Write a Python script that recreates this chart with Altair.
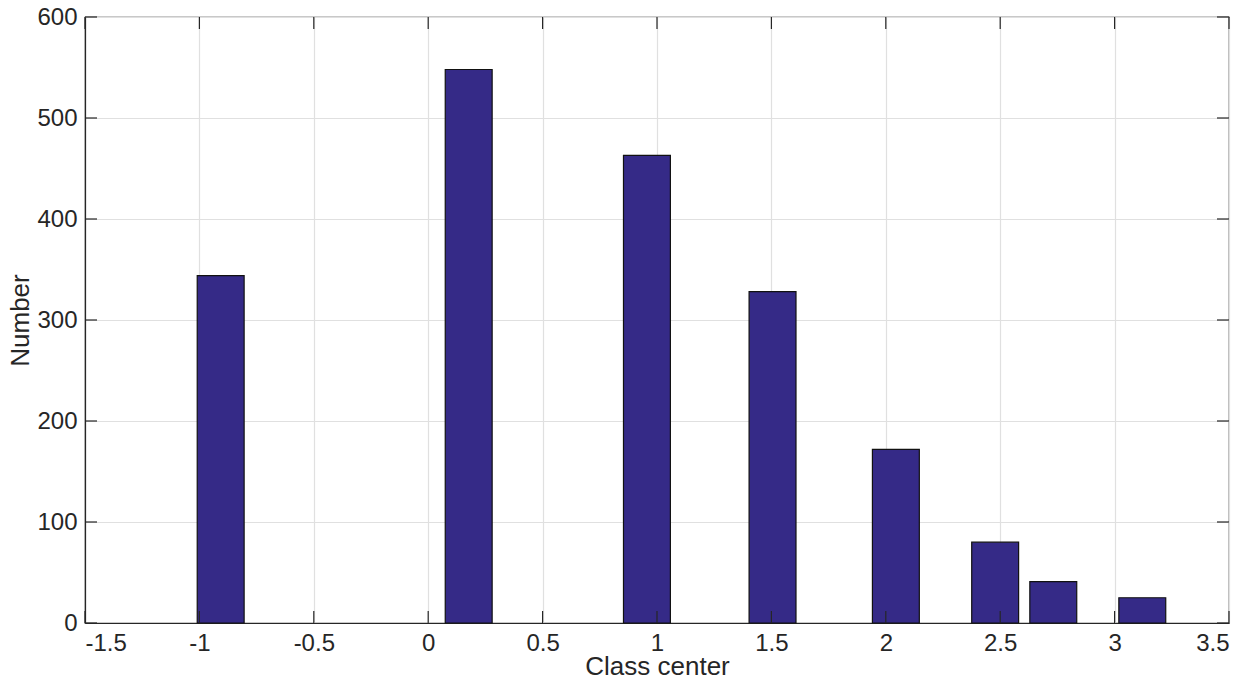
import altair as alt
import pandas as pd

# Data
class_center = [-0.907, 0.177, 0.956, 1.505, 2.044, 2.478, 2.732, 3.121]
number = [344, 548, 463, 328, 172, 80, 41, 25]
bar_width = 0.205

x_ticks = [-1.5, -1, -0.5, 0, 0.5, 1, 1.5, 2, 2.5, 3, 3.5]
y_ticks = [0, 100, 200, 300, 400, 500, 600]

FONT = "Liberation Sans"
W, H = 1144, 606
TICK = 12
AX = "#262626"

df = pd.DataFrame({"center": class_center, "number": number})
xt = pd.DataFrame({"v": x_ticks})
yt = pd.DataFrame({"v": y_ticks})

xscale = alt.Scale(domain=[-1.5, 3.5], nice=False, zero=False)
yscale = alt.Scale(domain=[0, 600], nice=False)

xaxis = alt.Axis(
    values=x_ticks,
    title="Class center",
    labelExpr="replace(format(datum.value, ''), '\u2212', '-')",
    labelPadding=8,
    titleBaseline="alphabetic",
    titleY=51,
)
yaxis = alt.Axis(
    values=y_ticks,
    title="Number",
    labelPadding=8,
    titleBaseline="alphabetic",
    titleX=-57,
)

bars = alt.Chart(df).transform_calculate(
    x0="datum.center - %f" % (bar_width / 2),
    x1="datum.center + %f" % (bar_width / 2),
).mark_bar(
    color="#352a87", stroke="#111111", strokeWidth=1.2
).encode(
    x=alt.X("x0:Q", scale=xscale, axis=xaxis),
    x2="x1:Q",
    y=alt.Y("number:Q", scale=yscale, axis=yaxis),
    y2=alt.datum(0),
)

tick_style = dict(color=AX, strokeWidth=1.2)

x_bottom = alt.Chart(xt).mark_rule(**tick_style).encode(
    x=alt.X("v:Q", scale=xscale, axis=xaxis),
    y=alt.value(H), y2=alt.value(H - TICK),
)
x_top = alt.Chart(xt).mark_rule(**tick_style).encode(
    x=alt.X("v:Q", scale=xscale, axis=xaxis),
    y=alt.value(0), y2=alt.value(TICK),
)
y_left = alt.Chart(yt).mark_rule(**tick_style).encode(
    y=alt.Y("v:Q", scale=yscale, axis=yaxis),
    x=alt.value(0), x2=alt.value(TICK),
)
y_right = alt.Chart(yt).mark_rule(**tick_style).encode(
    y=alt.Y("v:Q", scale=yscale, axis=yaxis),
    x=alt.value(W), x2=alt.value(W - TICK),
)

chart = alt.layer(bars, x_bottom, x_top, y_left, y_right).properties(
    width=W,
    height=H,
    autosize=alt.AutoSizeParams(type="none"),
    padding={"left": 77, "top": 9, "right": 10, "bottom": 52},
).configure_axis(
    labelFont=FONT,
    titleFont=FONT,
    labelFontSize=24,
    titleFontSize=26,
    labelColor=AX,
    titleColor=AX,
    titleFontWeight="normal",
    domainColor=AX,
    domainWidth=1.2,
    ticks=False,
    gridColor="#e0e0e0",
    gridWidth=1.2,
    labelOverlap=False,
).configure_view(
    stroke=AX, strokeWidth=1.2
)

chart.save("out.html", embed_options={"renderer": "svg", "actions": False})
